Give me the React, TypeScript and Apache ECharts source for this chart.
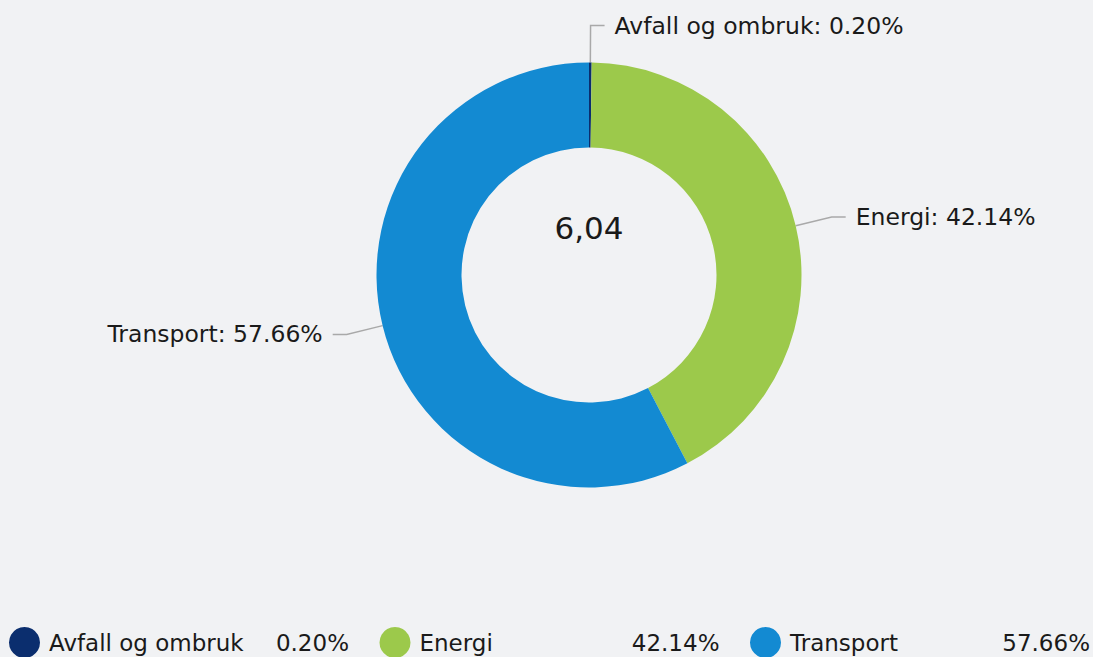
import React, { useEffect, useRef } from "react";
import * as echarts from "echarts";

const categories = ["Avfall og ombruk", "Energi", "Transport"];
const shares = [0.2, 42.14, 57.66];
const colors = ["#0b2e6e", "#9cc94b", "#138ad2"];
const totalLabel = "6,04";

const FONT = "'DejaVu Sans', Verdana, sans-serif";

export default function App() {
  const ref = useRef<HTMLDivElement>(null);
  useEffect(() => {
    if (!ref.current) return;
    const chart = echarts.init(ref.current, undefined, { renderer: "svg" });
    const pctOf = (name: string) => shares[categories.indexOf(name)].toFixed(2) + "%";
    chart.setOption({
      animation: false,
      backgroundColor: "#f1f2f4",
      textStyle: { fontFamily: FONT },
      color: colors,
      graphic: [
        {
          type: "text",
          x: 589,
          y: 228,
          style: {
            text: totalLabel,
            fontSize: 31,
            fontFamily: FONT,
            fill: "#1a1a1a",
            textAlign: "center",
            textVerticalAlign: "middle",
          },
        },
      ],
      legend: {
        left: 9,
        top: 627,
        width: 1092,
        padding: 0,
        itemWidth: 31,
        itemHeight: 31,
        itemGap: 30.5,
        icon: "circle",
        selectedMode: false,
        data: categories,
        formatter: (name: string) => `{n|${name}}{v|${pctOf(name)}}`,
        textStyle: {
          fontFamily: FONT,
          fontSize: 23,
          color: "#1a1a1a",
          rich: {
            n: { fontFamily: FONT, fontSize: 23, color: "#1a1a1a", width: 200, padding: [0, 0, 0, 4] },
            v: { fontFamily: FONT, fontSize: 23, color: "#1a1a1a", width: 100, align: "right" },
          },
        },
      },
      series: [
        {
          type: "pie",
          center: [589, 275],
          radius: [127.5, 212.5],
          startAngle: 90,
          clockwise: true,
          avoidLabelOverlap: false,
          itemStyle: { borderWidth: 0 },
          label: {
            show: true,
            fontFamily: FONT,
            fontSize: 23.5,
            color: "#1a1a1a",
            distanceToLabelLine: 10,
            formatter: (p: any) => `${p.name}: ${Number(p.value).toFixed(2)}%`,
          },
          labelLine: {
            show: true,
            length: 37,
            length2: 14,
            smooth: false,
            lineStyle: { color: "#a9a9a9", width: 1.5 },
          },
          emphasis: { disabled: true },
          data: categories.map((c, i) => ({ name: c, value: shares[i] })),
        },
      ],
    });
    return () => chart.dispose();
  }, []);
  return (
    <div
      ref={ref}
      style={{ position: "fixed", left: 0, top: 0, width: 1093, height: 657 }}
    />
  );
}
